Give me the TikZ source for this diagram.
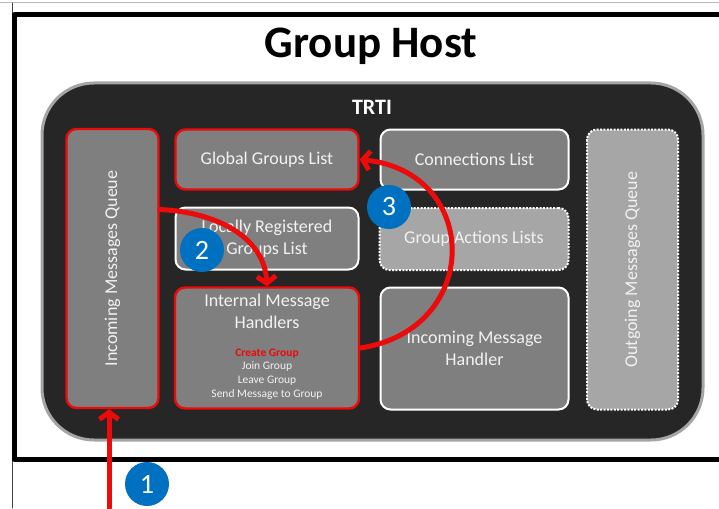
\documentclass[tikz,border=0pt]{standalone}
\usepackage{fontspec}
\setmainfont{Carlito}
\usepackage{tikz}
\usetikzlibrary{arrows.meta}
\usetikzlibrary{positioning}
\definecolor{hostdark}{RGB}{38,38,38}
\definecolor{hostrim}{RGB}{165,165,165}
\definecolor{boxgray}{RGB}{127,127,127}
\definecolor{boxlight}{RGB}{166,166,166}
\definecolor{boxtext}{RGB}{242,242,242}
\definecolor{hostred}{RGB}{236,10,10}
\definecolor{hostblue}{RGB}{0,112,192}

\begin{document}
\begin{tikzpicture}[line cap=round,line join=round,x=1pt,y=-1pt,
  box/.style={rectangle,rounded corners=10pt,draw=white,line width=2pt,fill=boxgray,text=boxtext,align=center,font=\fontsize{18}{22}\selectfont,inner sep=2pt},
  redbox/.style={box,draw=hostred,line width=2.4pt},
  dotbox/.style={box,fill=boxlight,line cap=butt,dash pattern=on 2pt off 1.4pt},
  boxlabel/.style={text=boxtext,align=center,font=\fontsize{18}{22}\selectfont,inner sep=0pt},
  smalllabel/.style={text=boxtext,align=center,font=\fontsize{11.5}{13.7}\selectfont,inner sep=0pt},
  flow/.style={draw=hostred,line width=5pt,-{Straight Barb[length=7pt,width=19pt]}},
  numdot/.style={circle,fill=hostblue,text=white,minimum size=44pt,inner sep=0pt,font=\fontsize{28}{28}\selectfont}]
\clip(0,0) rectangle (719,508);
\draw[gray!55,line width=1pt] (0,3)-- (719,3);
\draw[black!75,line width=0.8pt] (12,3)-- (12,508);
\draw[line width=5pt,line cap=butt] (14,15) rectangle (730,459);
\node[font=\fontsize{45}{50}\selectfont\bfseries,inner sep=0pt] (host) at (371,46) {Group Host};
\node[rectangle,rounded corners=52pt,draw=hostrim,line width=3pt,fill=hostdark,minimum width=661,minimum height=357] (trti) at (372.5,261.5) {};
\node[text=white,font=\fontsize{22}{24}\selectfont\bfseries,inner sep=0pt] (trtilbl) at (372,107) {TRTI};
\node[redbox,rotate=90,minimum width=279,minimum height=92] (imq) at (112.5,268.5) {Incoming Messages Queue};
\node[redbox,minimum width=183,minimum height=60] (ggl) at (267,159.5) {Global Groups List};
\node[box,minimum width=188,minimum height=60] (conn) at (474.5,159.5) {Connections List};
\node[box,minimum width=183,minimum height=62] (lrg) at (267,238.5) {Locally Registered\\Groups List};
\node[dotbox,minimum width=189,minimum height=62] (gal) at (474,239) {Group Actions Lists};
\node[redbox,minimum width=184,minimum height=121] (imh) at (267,348) {};
\node[box,minimum width=188,minimum height=122] (inh) at (474.5,348.5) {Incoming Message\\Handler};
\node[dotbox,rotate=90,minimum width=280,minimum height=91] (omq) at (632.5,269.5) {Outgoing Messages Queue};
\node[boxlabel] (imhtitle) at (267,311) {Internal Message\\Handlers};
\node[smalllabel] (imhlist) at (267,374) {\textcolor{hostred}{\bfseries Create Group}\\Join Group\\Leave Group\\Send Message to Group};
\coordinate (wire) at (109,508);
\draw[flow] (wire)-- (wire |- imq.west);
\draw[flow] ([yshift=59pt]imq.south) .. controls (215,212) and (264,236) .. (imh.north);
\draw[flow] (imh.east) .. controls (482,330) and (482,172) .. (ggl.east);
\node[numdot] (n1) at (147,484) {1};
\node[numdot] (n2) at (202,250) {2};
\node[numdot] (n3) at (389,207) {3};
\end{tikzpicture}
\end{document}
